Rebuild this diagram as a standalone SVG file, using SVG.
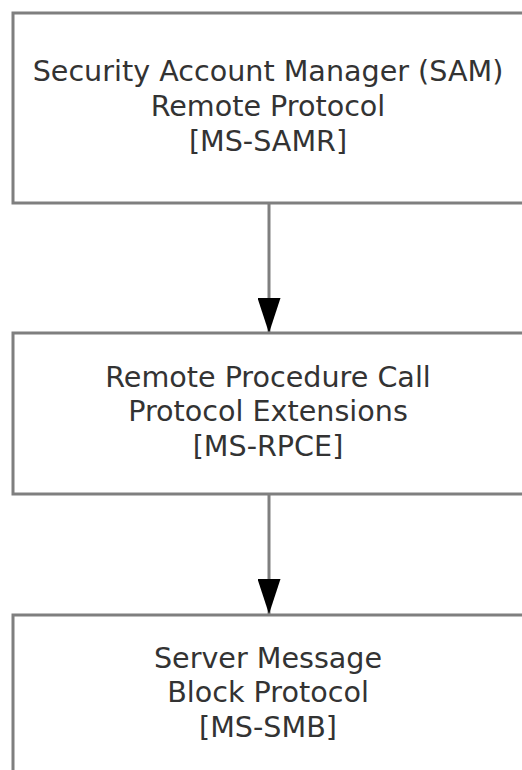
<svg xmlns="http://www.w3.org/2000/svg" width="522" height="770" viewBox="0 0 522 770">
  <style>
    .box { fill: #ffffff; stroke: #7f7f7f; stroke-width: 3; }
    .lbl { font-family: "DejaVu Sans", Verdana, sans-serif; font-size: 28.6px; fill: #333333; text-anchor: middle; }
    .conn { stroke: #7f7f7f; stroke-width: 3; fill: none; marker-end: url(#arrow); }
  </style>
  <defs>
    <marker id="arrow" markerUnits="userSpaceOnUse" markerWidth="35" markerHeight="23" refX="35" refY="11.5" orient="auto" viewBox="0 0 35 23">
      <path d="M0,0 L35,11.5 L0,23 Z" fill="#000000"/>
    </marker>
  </defs>
  <rect x="0" y="0" width="522" height="770" fill="#ffffff"/>
  <g id="connectors">
    <line class="conn" x1="269" y1="204" x2="269" y2="333"/>
    <line class="conn" x1="269" y1="495" x2="269" y2="614"/>
  </g>
  <g id="samr">
    <rect class="box" x="13" y="13" width="520" height="190"/>
    <text class="lbl" x="268" y="81">Security Account Manager (SAM)</text>
    <text class="lbl" x="268" y="116">Remote Protocol</text>
    <text class="lbl" x="268" y="151">[MS-SAMR]</text>
  </g>
  <g id="rpce">
    <rect class="box" x="13" y="333" width="520" height="161"/>
    <text class="lbl" x="268" y="387">Remote Procedure Call</text>
    <text class="lbl" x="268" y="421">Protocol Extensions</text>
    <text class="lbl" x="268" y="456">[MS-RPCE]</text>
  </g>
  <g id="smb">
    <rect class="box" x="13" y="615" width="520" height="200"/>
    <text class="lbl" x="268" y="668">Server Message</text>
    <text class="lbl" x="268" y="702">Block Protocol</text>
    <text class="lbl" x="268" y="737">[MS-SMB]</text>
  </g>
</svg>
